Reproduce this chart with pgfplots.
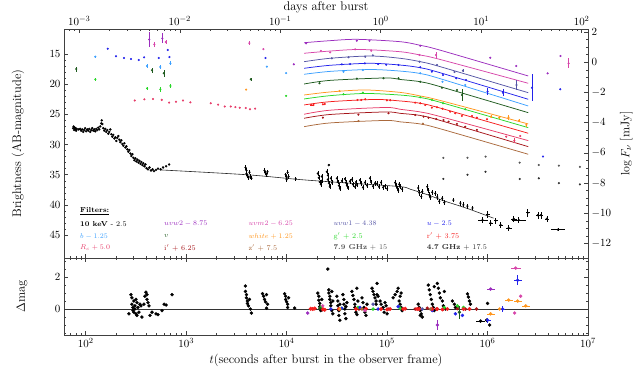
\documentclass[border=0pt]{standalone}
\usepackage{pgfplots}
\pgfplotsset{compat=1.18}

\definecolor{cuvwtwo}{RGB}{155,45,190}
\definecolor{cuvmtwo}{RGB}{215,70,170}
\definecolor{cuvwone}{RGB}{85,85,165}
\definecolor{cu}{RGB}{35,35,235}
\definecolor{cb}{RGB}{60,160,255}
\definecolor{cv}{RGB}{30,90,30}
\definecolor{cwhite}{RGB}{255,150,30}
\definecolor{cg}{RGB}{40,215,40}
\definecolor{cr}{RGB}{245,30,30}
\definecolor{cRc}{RGB}{230,60,105}
\definecolor{ci}{RGB}{165,20,25}
\definecolor{cz}{RGB}{170,105,60}
\definecolor{cradA}{RGB}{85,85,85}
\definecolor{cradB}{RGB}{45,45,45}

\pgfplotsset{
  panel/.style={scale only axis, width=524pt, xmin=1.784, xmax=7,
    axis line style={line width=0.9pt, black!75}, tick align=inside,
    major tick length=4pt, minor tick length=2.3pt,
    tick style={black!75, line width=0.5pt},
    tick label style={font=\fontsize{11}{13}\selectfont},
    label style={font=\fontsize{12.5}{14}\selectfont}},
  dot/.style={only marks, mark=*, mark size=0.85pt, color=#1, mark options={fill=#1, draw=none}},
  edot/.style={dot=#1, error bars/x dir=both, error bars/x explicit,
    error bars/y dir=both, error bars/y explicit, error bars/error mark=none,
    error bars/error bar style={line width=0.5pt, #1}},
  bdot/.style={only marks, mark=*, mark size=1.5pt, color=#1, mark options={fill=#1, draw=none}},
  ebdot/.style={bdot=#1, error bars/x dir=both, error bars/x explicit,
    error bars/y dir=both, error bars/y explicit, error bars/error mark=none,
    error bars/error bar style={line width=0.6pt, #1}},
  model/.style={no marks, color=#1, line width=0.75pt, smooth},
}

\begin{document}
\begin{tikzpicture}

% ---------------- top panel: magnitudes ----------------
\begin{axis}[panel, at={(64pt,-258pt)}, height=229pt,
  ymin=10.86, ymax=48.8, y dir=reverse,
  xtick={2,3,4,5,6,7}, xticklabels={},
  minor xtick={1.845,1.903,1.954,2.301,2.477,2.602,2.699,2.778,2.845,2.903,2.954,3.301,3.477,3.602,3.699,3.778,3.845,3.903,3.954,4.301,4.477,4.602,4.699,4.778,4.845,4.903,4.954,5.301,5.477,5.602,5.699,5.778,5.845,5.903,5.954,6.301,6.477,6.602,6.699,6.778,6.845,6.903,6.954},
  ytick={15,20,25,30,35,40,45}, minor y tick num=4,
  xtick pos=bottom, ytick pos=left,
  ylabel={Brightness (AB-magnitude)},
  ylabel style={at={(axis description cs:-0.088,0.5)}, anchor=center},
]
% model curves
\addplot[model=cuvwtwo] coordinates {(4.174,13.13)(4.433,12.79)(4.702,12.57)(5.130,12.96)(5.330,13.56)(5.529,14.37)(6.405,18.64)};
\addplot[model=cuvmtwo] coordinates {(4.174,14.88)(4.433,14.51)(4.732,14.25)(5.130,14.62)(5.330,15.17)(5.529,15.91)(6.405,19.85)};
\addplot[model=cuvwone] coordinates {(4.174,16.27)(4.433,15.71)(4.832,15.33)(5.130,15.71)(5.330,16.27)(5.529,17.10)(6.405,21.41)};
\addplot[model=cu] coordinates {(4.174,17.37)(4.433,16.87)(4.832,16.54)(5.130,16.83)(5.330,17.27)(5.529,18.11)(6.405,22.50)};
\addplot[model=cb] coordinates {(4.174,18.36)(4.433,17.88)(4.832,17.57)(5.130,17.83)(5.330,18.23)(5.529,19.09)(6.405,23.61)};
\addplot[model=cv] coordinates {(4.174,19.97)(4.433,19.37)(4.981,18.97)(5.130,19.22)(5.330,19.59)(5.529,20.41)(6.405,24.72)};
\addplot[model=cwhite] coordinates {(4.174,21.79)(4.433,21.29)(4.782,20.96)(5.130,21.36)(5.330,21.95)(5.529,22.70)(6.405,26.59)};
\addplot[model=cg] coordinates {(4.174,22.45)(4.433,21.90)(4.782,21.54)(5.130,21.80)(5.330,22.20)(5.529,23.00)(6.405,27.20)};
\addplot[model=cr] coordinates {(4.174,23.44)(4.433,22.90)(4.882,22.53)(5.130,22.78)(5.330,23.16)(5.529,23.96)(6.405,28.13)};
\addplot[model=cRc] coordinates {(4.174,24.98)(4.433,24.31)(4.981,23.86)(5.130,24.16)(5.330,24.60)(5.529,25.36)(6.405,29.35)};
\addplot[model=ci] coordinates {(4.174,25.65)(4.433,25.02)(4.981,24.60)(5.130,24.83)(5.330,25.18)(5.529,26.01)(6.405,30.35)};
\addplot[model=cz] coordinates {(4.174,27.04)(4.433,26.42)(4.981,26.01)(5.130,26.24)(5.330,26.59)(5.529,27.39)(6.405,31.61)};
% x-ray model
\addplot[no marks, black!85, line width=0.6pt, smooth] coordinates {(2.74,34.2)(3.60,35.0)(4.13,35.8)(4.63,36.4)(5.13,36.97)(5.23,37.4)(5.40,38.3)(5.56,39.3)(5.80,40.6)(6.06,42.2)};

% x-ray data (10 keV - 2.5)
\addplot[dot=black, mark size=1pt] coordinates {
(1.875,27.3)(1.880,27.0)(1.885,27.6)(1.890,27.2)(1.895,27.5)(1.900,27.3)(1.905,27.7)(1.910,27.4)
(1.930,27.5)(1.945,27.4)(1.955,27.7)(1.965,27.5)(1.975,27.9)(1.985,27.6)(1.995,27.3)(2.005,27.8)
(2.015,27.5)(2.025,27.7)(2.035,27.4)(2.045,27.9)(2.055,27.6)(2.065,27.3)(2.075,27.7)(2.085,27.5)
(2.095,27.8)(2.105,27.4)(2.115,27.6)(2.125,27.2)(2.135,27.5)(2.145,27.0)(2.155,26.5)(2.160,26.0)
(2.165,26.6)(2.175,27.3)(2.185,27.7)(2.195,27.4)(2.205,27.9)(2.215,27.6)(2.225,28.2)(2.235,27.9)
(2.245,27.5)(2.255,28.3)(2.265,28.7)(2.275,28.4)(2.285,29.0)(2.295,28.8)(2.305,29.4)(2.315,28.9)
(2.325,28.6)(2.335,29.2)(2.345,29.6)(2.355,29.3)(2.365,29.9)(2.375,30.2)(2.385,29.8)(2.395,30.5)
(2.405,30.3)(2.415,30.8)(2.425,31.2)(2.435,30.9)(2.445,31.5)(2.455,31.9)(2.465,31.6)(2.475,32.2)
(2.485,32.6)(2.495,32.3)(2.505,32.8)(2.515,32.5)(2.525,33.0)(2.535,32.7)(2.545,33.2)(2.555,32.9)
(2.565,33.4)(2.575,33.1)(2.585,33.6)(2.595,33.3)(2.605,33.9)(2.620,34.1)(2.635,33.8)(2.650,34.3)
(2.665,34.1)(2.680,34.4)(2.700,34.2)(2.720,34.0)(2.745,34.1)(2.770,33.8)(2.800,33.6)(2.830,33.3)
(4.42,33.4)
};
\addplot[edot=black] coordinates {
(3.59,33.8)+-(0,0.35)(3.60,34.3)+-(0,0.35)(3.60,34.8)+-(0,0.35)(3.61,35.2)+-(0,0.35)(3.62,35.5)+-(0,0.35)
(3.63,34.6)+-(0,0.35)(3.64,35.3)+-(0,0.35)(3.65,35.6)+-(0,0.35)
(3.78,34.3)+-(0,0.35)(3.79,34.7)+-(0,0.35)(3.80,35.0)+-(0,0.35)(3.81,34.5)+-(0,0.35)
(3.99,35.0)+-(0,0.35)(4.00,35.4)+-(0,0.35)(4.00,35.8)+-(0,0.35)(4.01,34.6)+-(0,0.35)(4.02,35.3)+-(0,0.35)
(4.09,35.7)+-(0,0.3)
(4.31,34.8)+-(0,0.4)(4.32,35.5)+-(0,0.4)(4.33,36.2)+-(0,0.4)(4.34,36.6)+-(0,0.4)(4.35,35.3)+-(0,0.4)(4.35,36.0)+-(0,0.4)
(4.40,34.5)+-(0,0.4)(4.41,35.1)+-(0,0.4)(4.41,35.8)+-(0,0.4)(4.42,36.4)+-(0,0.4)(4.43,37.0)+-(0,0.4)(4.44,35.6)+-(0,0.4)(4.45,36.3)+-(0,0.4)
(4.50,35.6)+-(0,0.4)(4.51,36.2)+-(0,0.4)(4.52,36.8)+-(0,0.4)(4.53,37.3)+-(0,0.4)(4.55,36.0)+-(0,0.4)
(4.58,35.7)+-(0,0.4)(4.59,36.3)+-(0,0.4)(4.60,36.8)+-(0,0.4)(4.61,37.2)+-(0,0.4)(4.63,36.1)+-(0,0.4)
(4.65,35.8)+-(0,0.4)(4.66,36.6)+-(0,0.4)(4.68,37.0)+-(0,0.4)(4.69,36.2)+-(0,0.4)(4.70,36.7)+-(0,0.4)
(4.73,35.9)+-(0,0.4)(4.74,36.4)+-(0,0.4)(4.76,37.1)+-(0,0.4)(4.78,36.3)+-(0,0.4)(4.80,36.8)+-(0,0.4)
(4.83,35.6)+-(0,0.4)(4.84,36.2)+-(0,0.4)(4.86,36.9)+-(0,0.4)(4.88,36.4)+-(0,0.4)
(4.90,36.5)+-(0,0.4)(4.92,37.0)+-(0,0.4)(4.94,36.3)+-(0,0.4)(4.96,37.1)+-(0,0.4)
(4.98,36.9)+-(0,0.4)(5.00,37.3)+-(0,0.4)
(5.08,36.3)+-(0,0.4)(5.09,36.8)+-(0,0.4)(5.10,37.2)+-(0,0.4)(5.11,37.6)+-(0,0.4)(5.12,36.6)+-(0,0.4)(5.13,37.0)+-(0,0.4)(5.15,37.4)+-(0,0.4)
(5.31,37.2)+-(0,0.45)(5.32,38.0)+-(0,0.45)(5.34,38.6)+-(0,0.45)(5.35,37.8)+-(0,0.45)
(5.40,37.0)+-(0,0.45)(5.41,37.6)+-(0,0.45)(5.42,38.3)+-(0,0.45)(5.43,38.8)+-(0,0.45)(5.45,37.9)+-(0,0.45)
(5.48,38.1)+-(0,0.45)(5.50,38.7)+-(0,0.45)(5.52,39.4)+-(0,0.45)(5.55,38.9)+-(0,0.45)(5.57,39.6)+-(0,0.45)
(5.66,39.2)+-(0,0.4)(5.73,39.7)+-(0,0.4)(5.76,40.0)+-(0,0.4)(5.80,40.2)+-(0,0.4)(5.85,40.5)+-(0,0.4)
(5.95,42.5)+-(0.05,0.5)(6.00,41.6)+-(0.02,0.6)(6.03,43.0)+-(0.02,0.5)(6.08,42.6)+-(0.02,0.5)
(6.13,43.3)+-(0.02,0.5)(6.21,43.8)+-(0.03,0.5)(6.26,42.3)+-(0.03,0.5)(6.31,42.5)+-(0.07,0.5)
(6.40,41.3)+-(0.02,0.7)(6.50,41.7)+-(0.02,0.6)(6.53,41.7)+-(0.02,0.6)(6.59,42.3)+-(0.02,0.5)
(6.70,44.1)+-(0.07,0.3)
};

% radio
\addplot[dot=cradA] coordinates {(5.56,32.2)(5.80,32.2)(5.98,32.0)(6.32,33.0)(6.51,33.4)(6.71,33.5)(6.92,33.7)};
\addplot[dot=cradB] coordinates {(5.56,35.7)(5.80,35.0)(5.98,34.5)(6.32,35.7)(6.51,35.6)(6.71,36.4)(6.92,36.6)};

% UV / optical data
\addplot[edot=cuvwtwo] coordinates {(2.633,12.6)+-(0,1.2)(2.763,12.4)+-(0,0.8)(4.072,16.7)+-(0,0)
(4.194,13.23)+-(0,0)(4.699,12.80)+-(0,0)(4.825,12.80)+-(0,0)(5.330,13.63)+-(0,0)
(6.027,15.61)+-(0,0)(6.286,16.99)+-(0,0)(6.598,18.20)+-(0,0)(6.727,15.33)+-(0,0)};
\addplot[edot=cuvmtwo] coordinates {(2.683,13.4)+-(0,0.4)(2.797,13.0)+-(0,0.3)(3.629,13.2)+-(0,0.3)(3.769,14.2)+-(0,0)
(4.341,14.50)+-(0,0)(4.433,14.72)+-(0,0)(4.682,14.22)+-(0,0)(4.842,14.45)+-(0,0)(5.323,15.17)+-(0,0)
(5.486,15.17)+-(0,0.5)(6.807,16.54)+-(0,0.8)};
\addplot[edot=cuvwone] coordinates {(4.450,15.71)+-(0,0)(4.616,15.55)+-(0,0)(4.782,15.45)+-(0,0)(4.859,15.22)+-(0,0)
(5.323,16.27)+-(0,0)(5.496,16.82)+-(0,0)(5.671,17.98)+-(0,0)(5.755,17.76)+-(0,0.3)(6.288,20.13)+-(0,0.8)};
\addplot[edot=cu] coordinates {(2.219,14.12)+-(0,0)(2.302,15.38)+-(0,0)(2.381,15.66)+-(0,0)(2.451,15.83)+-(0,0)
(2.528,15.99)+-(0,0)(2.581,15.55)+-(0,0)(2.727,15.66)+-(0,0)(2.817,14.34)+-(0,0)(2.833,15.50)+-(0,0)(3.789,15.66)+-(0,0)
(4.550,16.71)+-(0,0)(4.632,16.66)+-(0,0)(4.779,16.54)+-(0,0)(4.911,16.66)+-(0,0)(4.991,16.77)+-(0,0)(5.114,16.82)+-(0,0)
(5.330,17.20)+-(0,0)(5.446,17.93)+-(0,0)(5.556,18.48)+-(0,0)(5.688,19.02)+-(0,0)(5.785,19.30)+-(0,0)
(6.000,21.24)+-(0,0.6)(6.153,21.41)+-(0,0.6)(6.442,20.58)+-(0,2.2)(6.724,20.84)+-(0,0)(6.552,32.0)+-(0,0)};
\addplot[edot=cb] coordinates {(2.096,15.45)+-(0,0.2)(2.611,16.99)+-(0,0.3)(2.743,17.15)+-(0,0.3)(2.843,16.54)+-(0,0.3)
(3.803,17.1)+-(0,0)(3.995,18.15)+-(0,0)
(4.566,17.93)+-(0,0)(4.759,17.65)+-(0,0)(5.330,18.20)+-(0,0)(5.552,19.59)+-(0,0)(5.778,20.13)+-(0,0)};
\addplot[edot=cv] coordinates {(1.906,17.5)+-(0,0.4)(2.660,17.7)+-(0,0.4)(2.777,18.2)+-(0,0.6)(3.643,19.2)+-(0,0.2)
(4.327,19.85)+-(0,0)(4.699,19.09)+-(0,0)(4.964,19.02)+-(0,0)(5.114,19.02)+-(0,0)(5.330,19.59)+-(0,0)
(5.546,20.58)+-(0,0)(5.695,20.96)+-(0,0)(5.745,21.79)+-(0,1.0)};
\addplot[edot=cwhite] coordinates {(3.597,20.9)+-(0,0)(4.526,21.13)+-(0,0)(6.034,25.38)+-(0,0.2)(6.117,25.55)+-(0,0.2)
(6.209,25.48)+-(0,0.4)(6.313,26.04)+-(0,0.2)(6.386,26.75)+-(0,0.4)};
\addplot[edot=cg] coordinates {(2.096,19.2)+-(0,0.2)(2.611,20.7)+-(0,0.3)(2.743,20.85)+-(0,0.4)(2.843,20.3)+-(0,0.3)(3.995,21.95)+-(0,0)
(4.566,21.67)+-(0,0)(4.759,21.41)+-(0,0)(5.330,22.17)+-(0,0)(5.446,22.62)+-(0,0)(5.556,23.16)+-(0,0)(5.778,24.16)+-(0,0)};
\addplot[edot=cr] coordinates {(4.244,23.44)+-(0.01,0)(4.267,23.44)+-(0.01,0)(4.361,23.33)+-(0,0)(4.380,23.28)+-(0,0)
(4.705,22.62)+-(0,0)(4.742,22.62)+-(0,0)(4.782,22.50)+-(0,0)(4.998,22.67)+-(0,0)(5.031,22.67)+-(0,0)
(5.280,23.06)+-(0,0)(5.330,23.16)+-(0,0)(5.380,23.44)+-(0,0)(5.446,23.89)+-(0,0)(5.496,23.82)+-(0,0)
(5.552,24.06)+-(0,0)(5.628,24.55)+-(0,0)(5.678,24.82)+-(0,0)(5.745,25.26)+-(0,0)(5.845,25.26)+-(0,0)
(5.894,25.55)+-(0,0)(5.994,25.81)+-(0,0)};
\addplot[edot=cRc] coordinates {(2.488,22.7)+-(0,0)(2.584,22.5)+-(0,0)(2.670,22.45)+-(0,0)(2.757,22.6)+-(0,0)
(2.830,23.05)+-(0,0)(2.899,22.9)+-(0,0)(2.969,22.7)+-(0,0)(3.042,23.0)+-(0,0)(3.245,23.15)+-(0,0)
(3.318,23.4)+-(0,0)(3.384,23.7)+-(0,0)(3.444,23.7)+-(0,0)(3.490,23.8)+-(0,0)(3.534,23.9)+-(0,0)
(3.594,23.95)+-(0,0)(3.636,24.15)+-(0,0)(3.686,24.05)+-(0,0)
(6.186,28.69)+-(0,0)(6.266,29.35)+-(0,0.4)(6.326,28.58)+-(0,0)};
\addplot[edot=ci] coordinates {(4.361,25.55)+-(0,0)(4.715,25.05)+-(0,0)(5.014,24.82)+-(0,0)(5.280,25.10)+-(0,0)
(5.363,25.38)+-(0,0)(5.412,25.55)+-(0,0)(5.489,25.76)+-(0,0)(5.562,25.93)+-(0,0)(5.612,26.21)+-(0,0)
(5.695,26.59)+-(0,0)(5.778,27.04)+-(0,0)(5.894,27.58)+-(0,0)};
\addplot[edot=cz] coordinates {(4.715,26.09)+-(0,0)(5.357,26.54)+-(0,0)};
\end{axis}

% right axis: log F_nu
\begin{axis}[panel, at={(64pt,-258pt)}, height=229pt,
  ymin=-12.96, ymax=2.2, axis x line=none, axis y line*=right,
  ytick={-12,-10,-8,-6,-4,-2,0,2}, minor y tick num=3,
  ylabel={$\log F_\nu$ [mJy]},
  ylabel style={at={(axis description cs:1.073,0.5)}, anchor=center},
]
\end{axis}

% top axis: days
\begin{axis}[panel, at={(64pt,-258pt)}, height=229pt,
  ymin=0, ymax=1, axis y line=none, axis x line*=top,
  xtick={1.9365,2.9365,3.9365,4.9365,5.9365,6.9365},
  xticklabels={$10^{-3}$,$10^{-2}$,$10^{-1}$,$10^{0}$,$10^{1}$,$10^{2}$},
  minor xtick={1.8395,1.8905,2.2375,2.4135,2.5385,2.6355,2.7145,2.7815,2.8395,2.8905,3.2375,3.4135,3.5385,3.6355,3.7145,3.7815,3.8395,3.8905,4.2375,4.4135,4.5385,4.6355,4.7145,4.7815,4.8395,4.8905,5.2375,5.4135,5.5385,5.6355,5.7145,5.7815,5.8395,5.8905,6.2375,6.4135,6.5385,6.6355,6.7145,6.7815,6.8395,6.8905},
  xlabel={days after burst},
  xlabel style={yshift=-3.5pt},
]
\end{axis}

% legend of filters
\begin{scope}[every node/.style={anchor=west, font=\fontsize{7.2}{8}\selectfont, inner sep=0pt}]
\node at (80pt,-211pt) {\underline{\textbf{Filters:}}};
\node[text=black] at (80pt,-223.7pt) {\textbf{10 keV} - 2.5};
\node[text=cuvwtwo] at (164pt,-223.7pt) {$uvw2 - 8.75$};
\node[text=cuvmtwo] at (248.3pt,-223.7pt) {$uvm2 - 6.25$};
\node[text=cuvwone] at (333.3pt,-223.7pt) {$uvw1 - 4.38$};
\node[text=cu] at (426.7pt,-223.7pt) {$u - 2.5$};
\node[text=cb] at (80pt,-236.3pt) {$b - 1.25$};
\node[text=cv] at (164pt,-236.3pt) {$v$};
\node[text=cwhite] at (248.3pt,-236.3pt) {$white + 1.25$};
\node[text=cg] at (333.3pt,-236.3pt) {g$'$ + 2.5};
\node[text=cr] at (426.7pt,-236.3pt) {r$'$ + 3.75};
\node[text=cRc] at (80pt,-247.7pt) {$R_c + 5.0$};
\node[text=ci] at (164pt,-247.7pt) {i$'$ + 6.25};
\node[text=cz] at (248.3pt,-247.7pt) {z$'$ + 7.5};
\node[text=cradA] at (333.3pt,-247.7pt) {\textbf{7.9 GHz} + 15};
\node[text=cradB] at (426.7pt,-247.7pt) {\textbf{4.7 GHz} + 17.5};
\end{scope}

% ---------------- bottom panel: residuals ----------------
\begin{axis}[panel, at={(64pt,-335pt)}, height=77pt,
  ymin=-1.625, ymax=3.19,
  xtick={2,3,4,5,6,7},
  xticklabels={$10^{2}$,$10^{3}$,$10^{4}$,$10^{5}$,$10^{6}$,$10^{7}$},
  minor xtick={1.845,1.903,1.954,2.301,2.477,2.602,2.699,2.778,2.845,2.903,2.954,3.301,3.477,3.602,3.699,3.778,3.845,3.903,3.954,4.301,4.477,4.602,4.699,4.778,4.845,4.903,4.954,5.301,5.477,5.602,5.699,5.778,5.845,5.903,5.954,6.301,6.477,6.602,6.699,6.778,6.845,6.903,6.954},
  ytick={0,2}, minor ytick={-1.5,-1,-0.5,0.5,1,1.5,2.5,3},
  ylabel={$\Delta$mag},
  ylabel style={at={(axis description cs:-0.080,0.5)}, anchor=center},
  xlabel={$t$(seconds after burst in the observer frame)},
]
\addplot[no marks, black!80, line width=0.8pt] coordinates {(1.784,0)(7,0)};
\addplot[bdot=black] coordinates {
(2.43,-0.3)(2.45,0.9)(2.46,0.7)(2.46,0.3)(2.47,0.1)(2.47,-0.1)(2.48,0.5)(2.48,-0.2)(2.49,0.2)(2.49,0.0)
(2.50,0.6)(2.50,-0.3)(2.51,0.4)(2.51,-0.4)(2.52,0.1)(2.53,-0.2)(2.54,0.3)(2.55,0.2)(2.56,-0.5)(2.58,0.3)
(2.59,0.8)(2.60,1.05)(2.61,0.9)(2.61,0.6)(2.62,0.4)(2.63,0.2)(2.64,-0.4)(2.66,-0.2)(2.70,-0.3)(2.72,-0.35)
(2.76,-0.1)(2.78,0.3)(2.80,0.25)(2.86,0.9)
(3.59,1.44)(3.59,1.1)(3.60,0.9)(3.60,0.7)(3.61,0.5)(3.61,0.35)(3.62,0.2)(3.63,0.6)(3.64,0.0)(3.65,-0.25)
(3.76,0.96)(3.77,0.8)(3.78,0.6)(3.79,0.45)(3.80,0.9)(3.81,0.3)(3.80,0.05)
(3.98,0.96)(3.99,0.8)(3.99,0.6)(4.00,0.45)(4.01,0.3)(4.01,0.1)(4.02,0.7)(4.08,0.06)
(4.31,1.0)(4.32,0.8)(4.32,0.55)(4.33,0.35)(4.33,0.15)(4.34,-0.1)(4.35,0.6)(4.34,0.0)
(4.41,2.5)(4.42,1.2)(4.42,1.0)(4.43,0.8)(4.43,0.6)(4.44,0.4)(4.44,0.2)(4.45,-0.1)(4.45,1.1)(4.46,0.5)(4.46,-0.3)
(4.50,0.8)(4.51,0.5)(4.51,0.2)(4.52,-0.1)(4.52,-0.4)(4.53,-0.7)(4.52,0.0)(4.53,0.3)
(4.56,0.9)(4.57,0.6)(4.57,0.3)(4.58,0.0)(4.58,-0.3)(4.59,-0.6)(4.60,0.4)(4.59,0.15)
(4.65,1.1)(4.66,0.85)(4.67,0.6)(4.68,0.3)(4.68,0.1)(4.69,-0.2)(4.70,-0.35)(4.71,0.5)(4.70,1.3)
(4.75,0.7)(4.76,0.4)(4.77,0.1)(4.78,-0.2)(4.79,-0.4)(4.80,0.3)
(4.85,1.3)(4.86,1.1)(4.87,0.9)(4.88,0.7)(4.89,0.5)(4.90,1.6)(4.89,0.3)(4.90,0.9)
(4.91,0.8)(4.93,0.5)(4.94,0.3)(4.96,0.1)(4.97,-0.2)(4.98,0.4)(5.00,-0.3)(4.99,0.2)
(5.06,0.7)(5.08,0.9)(5.10,1.1)(5.11,1.3)(5.12,0.5)(5.13,0.3)(5.14,0.1)(5.15,-0.1)(5.13,0.8)(5.14,1.0)
(5.31,0.3)(5.32,0.1)(5.33,-0.1)(5.34,-0.3)(5.35,-0.5)(5.33,-0.4)
(5.41,1.5)(5.42,1.2)(5.43,0.9)(5.44,0.6)(5.45,0.3)(5.46,0.1)(5.47,1.4)(5.47,-0.1)
(5.50,1.6)(5.51,1.3)(5.52,1.0)(5.53,0.7)(5.55,0.5)(5.56,0.2)(5.57,1.1)(5.58,0.0)
(5.65,0.5)(5.67,0.3)(5.68,0.1)(5.70,0.15)
(5.80,0.95)(5.81,0.75)(5.82,0.5)(5.83,0.3)
(5.99,-0.7)(6.00,0.35)(6.02,-1.0)
};
\addplot[ebdot=black] coordinates {(5.93,-0.75)+-(0.04,0)};
\addplot[bdot=ci] coordinates {(4.36,-0.05)(4.72,0.0)(5.01,0.0)(5.28,0.0)(5.40,0.05)(5.49,0.0)(5.56,0.0)(5.70,0.02)(5.78,0.0)(5.89,0.0)};
\addplot[bdot=cg] coordinates {(4.34,0.1)(4.55,0.05)(4.71,0.1)(4.86,0.0)(5.13,0.05)(5.57,0.1)(5.70,0.2)(5.76,0.1)};
\addplot[ebdot=cu] coordinates {(4.44,0.0)+-(0,0)(4.55,0.05)+-(0,0)(4.73,0.1)+-(0,0)(4.91,0.0)+-(0,0)(5.11,0.15)+-(0,0)
(5.45,-0.1)+-(0,0)(5.68,-0.3)+-(0,0)(5.75,-0.4)+-(0,0)(6.00,-0.7)+-(0.03,0.15)(6.15,0.0)+-(0.02,0.2)(6.30,1.8)+-(0.04,0.3)};
\addplot[bdot=cr, mark size=1.8pt] coordinates {(4.24,0.02)(4.26,0.0)(4.28,0.03)(4.36,0.0)(4.38,-0.05)(4.52,0.0)(4.69,0.0)(4.79,0.02)(4.94,0.0)(5.00,-0.03)(5.03,0.0)(5.16,0.0)(5.18,0.02)(5.30,0.0)(5.32,0.0)(5.45,0.0)(5.50,0.0)(5.55,-0.03)(5.60,0.0)(5.76,0.0)(5.82,0.0)};
\addplot[ebdot=cuvwtwo] coordinates {(4.21,-0.25)+-(0,0)(5.50,-1.0)+-(0,0.3)(6.03,1.25)+-(0.04,0)};
\addplot[ebdot=cuvmtwo] coordinates {(4.36,0.2)+-(0,0)(4.78,-0.1)+-(0,0)(6.28,2.56)+-(0.05,0)(6.27,-0.25)+-(0,0)(6.33,0.8)+-(0,0)};
\addplot[ebdot=cwhite] coordinates {(4.53,0.0)+-(0,0)(6.03,-0.3)+-(0.04,0)(6.12,0.0)+-(0,0)(6.21,0.56)+-(0.04,0)(6.30,0.5)+-(0.04,0)(6.38,0.2)+-(0.04,0)};
\addplot[ebdot=cv] coordinates {(4.33,0.05)+-(0,0)(5.72,-0.2)+-(0,0.4)};
\addplot[bdot=cuvwone] coordinates {(4.86,0.3)(5.35,0.0)};
\addplot[bdot=cz] coordinates {(5.43,0.0)(4.75,0.0)};
\end{axis}

\pgfresetboundingbox
\path[use as bounding box] (0pt,0pt) rectangle (639pt,-368pt);
\end{tikzpicture}
\end{document}
